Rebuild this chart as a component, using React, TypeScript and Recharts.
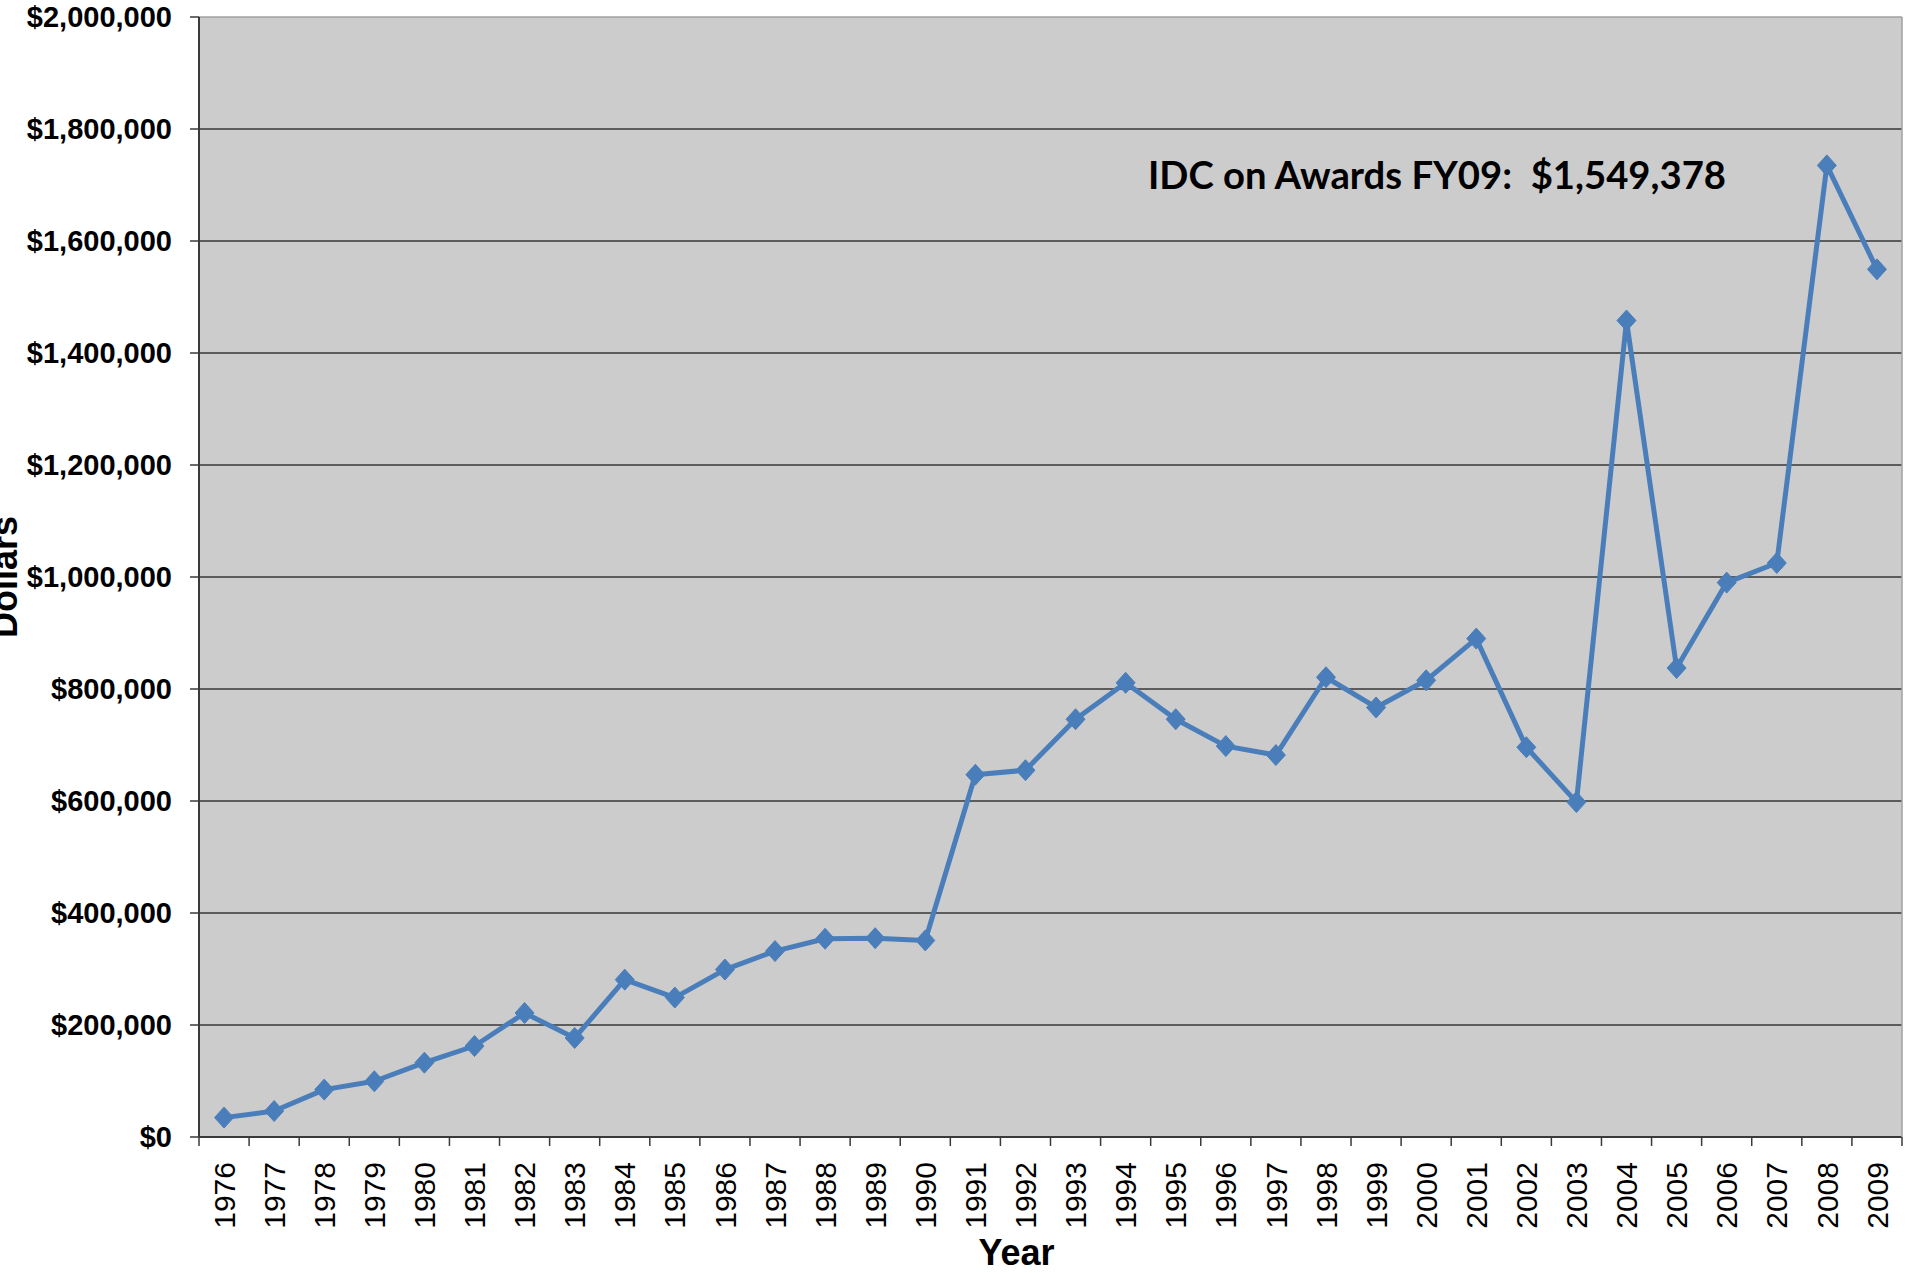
import React from 'react';
import { LineChart, Line, XAxis, YAxis, CartesianGrid, Customized } from 'recharts';

const years = [
  '1976', '1977', '1978', '1979', '1980', '1981', '1982', '1983', '1984', '1985',
  '1986', '1987', '1988', '1989', '1990', '1991', '1992', '1993', '1994', '1995',
  '1996', '1997', '1998', '1999', '2000', '2001', '2002', '2003', '2004', '2005',
  '2006', '2007', '2008', '2009',
];

const idcDollars = [
  34600, 46400, 84600, 99500, 132800, 162500, 221400, 176800, 281000, 249000,
  299000, 332000, 354000, 355000, 351000, 647000, 655000, 746000, 811000, 746000,
  698000, 682000, 821000, 767000, 815500, 890000, 696000, 598000, 1458000, 837500,
  990000, 1025000, 1735000, 1549378,
];

const yTicks = [0, 200000, 400000, 600000, 800000, 1000000, 1200000, 1400000, 1600000, 1800000, 2000000];

const annotationText = 'IDC on Awards FY09:  $1,549,378';
const yAxisTitle = 'Dollars';
const xAxisTitle = 'Year';

const data = years.map((year, i) => ({ year, value: idcDollars[i] }));

const CHART_W = 1905;
const CHART_H = 1273;
const MARGIN = { top: 17, right: 0, left: 0, bottom: 0 };
const Y_AXIS_W = 199;
const RIGHT_AXIS_W = 3;
const X_AXIS_H = 136;
const PLOT_W = CHART_W - MARGIN.left - MARGIN.right - Y_AXIS_W - RIGHT_AXIS_W;
const HALF_STEP = PLOT_W / years.length / 2;
const X_TICK_SIZE = 9;
const X_TICK_MARGIN = 16;

const ARIAL = "'Liberation Sans', Arial, Helvetica, sans-serif";
const LINE_COLOR = '#4A7EBB';
const AXIS_COLOR = '#3a3a3a';

const XTick = (props: any) => {
  const { x, y, payload, index } = props;
  const axisY = y - X_TICK_SIZE - X_TICK_MARGIN;
  return (
    <g>
      <line x1={x - HALF_STEP} x2={x - HALF_STEP} y1={axisY} y2={axisY + X_TICK_SIZE} stroke={AXIS_COLOR} strokeWidth={1.5} />
      {index === years.length - 1 && (
        <line x1={x + HALF_STEP} x2={x + HALF_STEP} y1={axisY} y2={axisY + X_TICK_SIZE} stroke={AXIS_COLOR} strokeWidth={1.5} />
      )}
      <text
        x={x}
        y={y}
        transform={`rotate(-90 ${x} ${y})`}
        textAnchor="end"
        dy="0.355em"
        fontSize={30}
        fontFamily={ARIAL}
        fill="#000"
      >
        {payload.value}
      </text>
    </g>
  );
};

const DiamondDot = (props: any) => {
  const { cx, cy, index } = props;
  if (cx == null || cy == null) return null;
  const hw = 9.5;
  const hh = 10.5;
  return (
    <polygon
      key={`d-${index}`}
      points={`${cx},${cy - hh} ${cx + hw},${cy} ${cx},${cy + hh} ${cx - hw},${cy}`}
      fill={LINE_COLOR}
      stroke={LINE_COLOR}
      strokeWidth={1}
    />
  );
};

const gridLine = (p: any) => {
  const isTop = Math.abs(p.y1 - MARGIN.top) < 1.5;
  return (
    <line
      key={`g-${p.index}`}
      x1={p.x1}
      y1={p.y1}
      x2={p.x2}
      y2={p.y2}
      stroke={isTop ? '#a0a0a0' : '#5c5c5c'}
      strokeWidth={isTop ? 1.5 : 2}
    />
  );
};

const DollarsLabel = (props: any) => {
  const vb = props.viewBox || { x: 0, y: MARGIN.top, width: Y_AXIS_W, height: 1120 };
  const cx = 17;
  const cy = vb.y + vb.height / 2;
  return (
    <text
      x={cx}
      y={cy}
      transform={`rotate(-90 ${cx} ${cy})`}
      textAnchor="middle"
      fontSize={36}
      fontWeight="bold"
      fontFamily={ARIAL}
      fill="#000"
    >
      {yAxisTitle}
    </text>
  );
};

const YearLabel = () => (
  <text x={1016.5} y={1265} textAnchor="middle" fontSize={36} fontWeight="bold" fontFamily={ARIAL} fill="#000">
    {xAxisTitle}
  </text>
);

const Annotation = () => (
  <text
    x={1148}
    y={189}
    fontSize={38}
    fontWeight="bold"
    fontFamily="Lato, 'Open Sans', 'Liberation Sans', sans-serif"
    fill="#000"
    textLength={578}
    lengthAdjust="spacingAndGlyphs"
    style={{ whiteSpace: 'pre' }}
  >
    {annotationText}
  </text>
);

export default function App() {
  return (
    <div style={{ position: 'absolute', left: 0, top: 0, width: CHART_W, height: CHART_H, background: '#fff' }}>
      <LineChart width={CHART_W} height={CHART_H} data={data} margin={MARGIN}>
        <CartesianGrid vertical={false} horizontal={gridLine} fill="#cccccc" />
        <XAxis
          dataKey="year"
          type="category"
          height={X_AXIS_H}
          interval={0}
          padding={{ left: HALF_STEP, right: HALF_STEP }}
          tick={<XTick />}
          tickSize={X_TICK_SIZE}
          tickMargin={X_TICK_MARGIN}
          tickLine={false}
          axisLine={{ stroke: AXIS_COLOR, strokeWidth: 2 }}
          label={{ content: YearLabel }}
        />
        <YAxis
          width={Y_AXIS_W}
          domain={[0, 2000000]}
          ticks={yTicks}
          interval={0}
          tickFormatter={(v: number) => '$' + v.toLocaleString('en-US')}
          tick={{ fontSize: 29, fontWeight: 'bold', fill: '#000', fontFamily: ARIAL }}
          tickSize={9}
          tickMargin={18}
          axisLine={{ stroke: AXIS_COLOR, strokeWidth: 2 }}
          tickLine={{ stroke: AXIS_COLOR, strokeWidth: 1.5 }}
          label={{ content: DollarsLabel }}
        />
        <YAxis
          yAxisId="right"
          orientation="right"
          width={RIGHT_AXIS_W}
          domain={[0, 1]}
          tick={false}
          tickLine={false}
          axisLine={{ stroke: '#a0a0a0', strokeWidth: 1.5 }}
        />
        <Line
          type="linear"
          dataKey="value"
          stroke={LINE_COLOR}
          strokeWidth={5}
          strokeLinejoin="round"
          dot={DiamondDot}
          activeDot={false}
          isAnimationActive={false}
        />
        <Customized component={Annotation} />
      </LineChart>
    </div>
  );
}
